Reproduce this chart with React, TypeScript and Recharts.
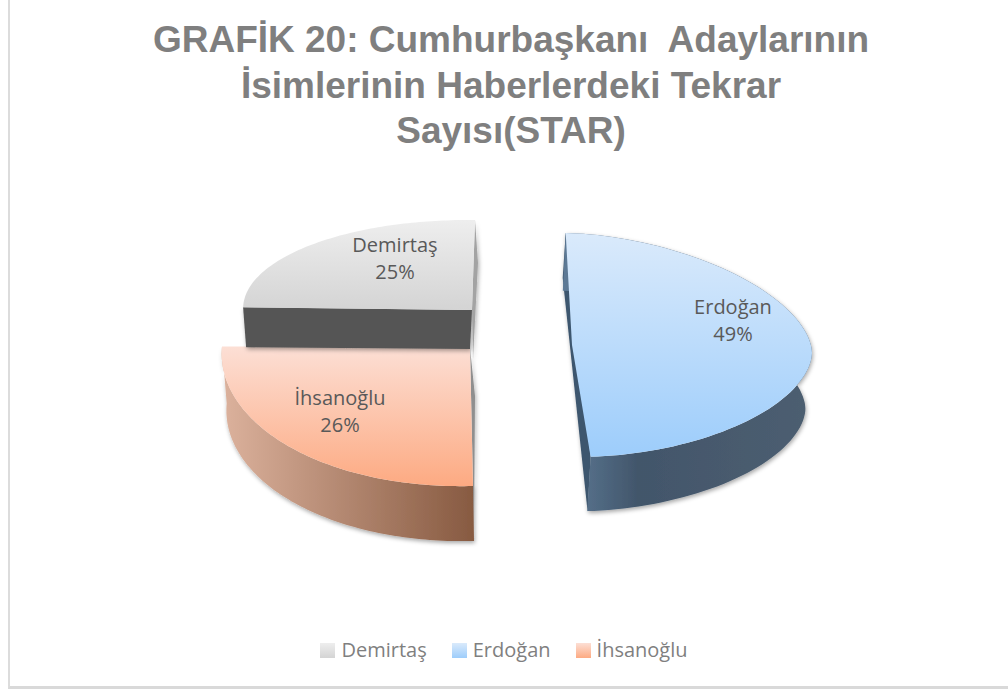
import React from "react";
import { PieChart, Pie, Legend } from "recharts";

const names = ["Erdoğan", "İhsanoğlu", "Demirtaş"];
const shares = [49, 26, 25];
const titleLines = ["GRAFİK 20: Cumhurbaşkanı  Adaylarının", "İsimlerinin Haberlerdeki Tekrar", "Sayısı(STAR)"];
const data = names.map((name, i) => ({ name, value: shares[i] }));

const W = 1008, H = 693, CX = 520, CY = 345;
type Pt = [number, number];
const looks: Record<string, any> = {
  "Erdoğan": {
    face: "fE", swatch: "fE", side: "sE", off: [52, 0], m: [240, 0, 7.9, 111.8], n: 1.8, drop: [-3, 56], k: 0.985,
    cuts: [{ a: "start", b: "end", da: [-3, 45], db: [-3, 55], fill: "#3e566e" }],
    label: [213, -31],
  },
  "İhsanoğlu": {
    face: "fI", swatch: "fI", side: "sI", off: [-50, 3], m: [247.4, -21.9, 6.8, 138], n: 2, drop: [1, 57], k: 0.985,
    cuts: [{ a: "apex", b: "start", da: [5, 48], db: [1, 55], fill: "#8f8f8f" }],
    label: [-180, 60],
  },
  "Demirtaş": {
    face: "fD", swatch: "fD", off: [-48, -35], m: [228.6, -11.6, 6.1, 89.8], n: 2, drop: [0, 0], k: 1,
    cuts: [
      { a: "end", b: "apex", da: [3, 43], db: [1, 49], fill: "#a3a3a3" },
      { a: "start", b: "apex", da: [3, 40], db: [-2, 39], fill: "#555555" },
    ],
    label: [-125, -93],
  },
};

const warp = (v: number, n: number) => Math.sign(v) * Math.pow(Math.abs(v), 2 / n);

function Slice3D(props: any) {
  const { cx, cy, startAngle, endAngle, name, payload } = props;
  const look = looks[name ?? payload?.name];
  if (!look) return null;
  const ax = cx + look.off[0], ay = cy + look.off[1];
  const [xs, xc, ys, yc] = look.m;
  const at = (clock: number): Pt => {
    const r = (clock * Math.PI) / 180;
    const s = warp(Math.sin(r), look.n), c = warp(-Math.cos(r), look.n);
    return [ax + xs * s + xc * c, ay + ys * s + yc * c];
  };
  const t0 = 90 - startAngle, t1 = 90 - endAngle;
  const arc: Pt[] = [];
  const steps = 90;
  for (let i = 0; i <= steps; i++) arc.push(at(t0 + ((t1 - t0) * i) / steps));
  const lower = (p: Pt): Pt => [
    ax + look.drop[0] + look.k * (p[0] - ax),
    ay + look.drop[1] + look.k * (p[1] - ay),
  ];
  const d = (pts: Pt[]) => "M" + pts.map((p) => `${p[0].toFixed(1)},${p[1].toFixed(1)}`).join("L") + "Z";
  const named: Record<string, Pt> = { apex: [ax, ay], start: arc[0], end: arc[steps] };
  return (
    <g>
      <g filter="url(#soft)">
        {look.cuts.map((q: any, i: number) => {
          const A = named[q.a], B = named[q.b];
          return (
            <path
              key={i}
              d={d([A, B, [B[0] + q.db[0], B[1] + q.db[1]], [A[0] + q.da[0], A[1] + q.da[1]]])}
              fill={q.fill}
            />
          );
        })}
        {look.side && <path d={d([...arc, ...arc.map(lower).reverse()])} fill={`url(#${look.side})`} />}
      </g>
      <path d={d([[ax, ay], ...arc])} fill={`url(#${look.face})`} />
    </g>
  );
}

function SliceLabel(props: any) {
  const { cx, cy, name, value } = props;
  const look = looks[name];
  if (!look) return null;
  const x = cx + look.label[0], y = cy + look.label[1];
  return (
    <text x={x} y={y} textAnchor="middle" fontFamily="'Open Sans', sans-serif" fontSize={20} fill="#595959">
      <tspan x={x} dy={0}>{name}</tspan>
      <tspan x={x} dy={27}>{value}%</tspan>
    </text>
  );
}

function LegendRow(props: any) {
  const items = props.payload ?? [];
  return (
    <div style={{ display: "flex", alignItems: "center", justifyContent: "center", gap: 25, fontFamily: "'Open Sans', sans-serif", fontSize: 20, color: "#7f7f7f", lineHeight: "28px" }}>
      {items.map((it: any) => (
        <span key={it.value} style={{ display: "inline-flex", alignItems: "center", gap: 6 }}>
          <svg width={15} height={15} style={{ display: "block" }}>
            <rect width={15} height={15} fill={`url(#${looks[it.value].swatch}L)`} />
            <defs>
              <linearGradient id={`${looks[it.value].swatch}L`} x1="0" y1="0" x2="0" y2="1">
                <stop offset="0" stopColor={{ fE: "#daeafb", fI: "#fcdfd5", fD: "#eeeeee" }[looks[it.value].swatch as "fE"]} />
                <stop offset="1" stopColor={{ fE: "#9dcdfb", fI: "#fdaa82", fD: "#d4d4d4" }[looks[it.value].swatch as "fE"]} />
              </linearGradient>
            </defs>
          </svg>
          {it.value}
        </span>
      ))}
    </div>
  );
}

export default function App() {
  return (
    <div style={{ position: "absolute", left: 0, top: 0, width: W, height: H, background: "#ffffff", overflow: "hidden" }}>
      <div style={{ position: "absolute", left: 8, top: -4, width: 1010, height: 690, borderLeft: "2px solid #dcdcdc", borderBottom: "3px solid #d9d9d9" }} />
      <PieChart width={W} height={H} margin={{ top: 0, right: 0, bottom: 0, left: 0 }} style={{ position: "absolute", left: 0, top: 0 }}>
        <defs>
          <linearGradient id="fE" x1="0" y1="0" x2="0" y2="1">
            <stop offset="0" stopColor="#daeafb" />
            <stop offset="1" stopColor="#9dcdfb" />
          </linearGradient>
          <linearGradient id="fI" x1="0" y1="0" x2="0" y2="1">
            <stop offset="0" stopColor="#fcdfd5" />
            <stop offset="1" stopColor="#fdaa82" />
          </linearGradient>
          <linearGradient id="fD" x1="0" y1="0" x2="0" y2="1">
            <stop offset="0" stopColor="#eeeeee" />
            <stop offset="1" stopColor="#d4d4d4" />
          </linearGradient>
          <linearGradient id="sE" x1="0" y1="0" x2="1" y2="0">
            <stop offset="0" stopColor="#5d7a96" />
            <stop offset="0.3" stopColor="#42566b" />
            <stop offset="1" stopColor="#4d5e70" />
          </linearGradient>
          <linearGradient id="sI" x1="0" y1="0" x2="1" y2="0">
            <stop offset="0" stopColor="#dcb29d" />
            <stop offset="1" stopColor="#875a41" />
          </linearGradient>
          <filter id="soft" x="-10%" y="-10%" width="120%" height="120%">
            <feDropShadow dx="1" dy="2" stdDeviation="2" floodColor="#000000" floodOpacity="0.35" />
          </filter>
        </defs>
        {titleLines.map((line, i) => (
          <text key={i} x={511} y={52 + i * 45.5} textAnchor="middle" fontFamily="'Liberation Sans', Arial, sans-serif" fontWeight={700} fontSize={37} fill="#7f7f7f" style={{ whiteSpace: "pre" }}>
            {line}
          </text>
        ))}
        <Pie
          data={data}
          dataKey="value"
          nameKey="name"
          cx={CX}
          cy={CY}
          outerRadius={240}
          startAngle={92.15}
          endAngle={-267.85}
          stroke="none"
          shape={Slice3D}
          label={SliceLabel}
          labelLine={false}
          isAnimationActive={false}
        />
        <Legend content={LegendRow} wrapperStyle={{ left: 0, width: W, top: 636 }} />
      </PieChart>
    </div>
  );
}
